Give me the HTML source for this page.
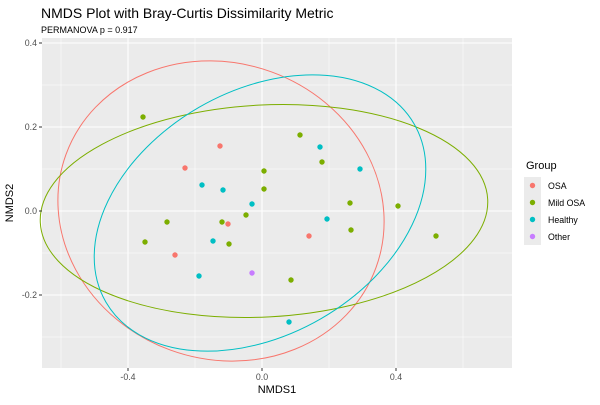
<!DOCTYPE html>
<html><head><style>body{margin:0;background:#fff}</style></head><body>
<svg width="600" height="400" xmlns="http://www.w3.org/2000/svg" font-family="Liberation Sans, DejaVu Sans, sans-serif">
<rect width="600" height="400" fill="#fff"/>
<text x="41" y="18" font-size="14" fill="#000">NMDS Plot with Bray-Curtis Dissimilarity Metric</text>
<text x="41" y="33" font-size="9" fill="#000">PERMANOVA p = 0.917</text>
<rect x="42" y="38" width="470" height="330" fill="#ebebeb"/>
<g stroke="#fff" stroke-width="0.5">
<line x1="61" x2="61" y1="38" y2="368"/><line x1="195" x2="195" y1="38" y2="368"/><line x1="329" x2="329" y1="38" y2="368"/><line x1="463" x2="463" y1="38" y2="368"/>
<line x1="42" x2="512" y1="85" y2="85"/><line x1="42" x2="512" y1="169" y2="169"/><line x1="42" x2="512" y1="253" y2="253"/><line x1="42" x2="512" y1="337" y2="337"/>
</g>
<g stroke="#fff" stroke-width="1.1">
<line x1="128" x2="128" y1="38" y2="368"/><line x1="262" x2="262" y1="38" y2="368"/><line x1="396" x2="396" y1="38" y2="368"/>
<line x1="42" x2="512" y1="43" y2="43"/><line x1="42" x2="512" y1="127" y2="127"/><line x1="42" x2="512" y1="211" y2="211"/><line x1="42" x2="512" y1="295" y2="295"/>
</g>
<g fill="none" stroke-width="1">
<ellipse cx="221" cy="211" rx="165" ry="148" transform="rotate(20 221 211)" stroke="#F8766D"/>
<ellipse cx="264" cy="211" rx="224" ry="106" transform="rotate(-3 264 211)" stroke="#7CAE00"/>
<ellipse cx="260" cy="213" rx="178" ry="122" transform="rotate(-30 260 213)" stroke="#00BFC4"/>
</g>
<g fill="#F8766D"><circle cx="220" cy="146" r="2.7"/><circle cx="185" cy="168" r="2.7"/><circle cx="228" cy="224" r="2.7"/><circle cx="175" cy="255" r="2.7"/><circle cx="309" cy="236" r="2.7"/></g>
<g fill="#7CAE00"><circle cx="143" cy="117" r="2.7"/><circle cx="300" cy="135" r="2.7"/><circle cx="264" cy="171" r="2.7"/><circle cx="322" cy="162" r="2.7"/><circle cx="264" cy="189" r="2.7"/><circle cx="167" cy="222" r="2.7"/><circle cx="246" cy="215" r="2.7"/><circle cx="222" cy="222" r="2.7"/><circle cx="229" cy="244" r="2.7"/><circle cx="145" cy="242" r="2.7"/><circle cx="350" cy="203" r="2.7"/><circle cx="351" cy="230" r="2.7"/><circle cx="398" cy="206" r="2.7"/><circle cx="436" cy="236" r="2.7"/><circle cx="291" cy="280" r="2.7"/></g>
<g fill="#00BFC4"><circle cx="202" cy="185" r="2.7"/><circle cx="223" cy="190" r="2.7"/><circle cx="252" cy="204" r="2.7"/><circle cx="320" cy="147" r="2.7"/><circle cx="360" cy="169" r="2.7"/><circle cx="327" cy="219" r="2.7"/><circle cx="213" cy="241" r="2.7"/><circle cx="199" cy="276" r="2.7"/><circle cx="289" cy="322" r="2.7"/></g>
<circle cx="252" cy="273" r="2.7" fill="#C77CFF"/>
<g stroke="#333" stroke-width="1">
<line x1="128" x2="128" y1="368" y2="371"/><line x1="262" x2="262" y1="368" y2="371"/><line x1="396" x2="396" y1="368" y2="371"/>
<line x1="39" x2="42" y1="43" y2="43"/><line x1="39" x2="42" y1="127" y2="127"/><line x1="39" x2="42" y1="211" y2="211"/><line x1="39" x2="42" y1="295" y2="295"/>
</g>
<g font-size="8.8" fill="#4d4d4d">
<text x="128" y="380" text-anchor="middle">-0.4</text><text x="262" y="380" text-anchor="middle">0.0</text><text x="396" y="380" text-anchor="middle">0.4</text>
<text x="37" y="46" text-anchor="end">0.4</text><text x="37" y="130" text-anchor="end">0.2</text><text x="37" y="214" text-anchor="end">0.0</text><text x="37" y="298" text-anchor="end">-0.2</text>
</g>
<text x="277" y="393" font-size="11" text-anchor="middle">NMDS1</text>
<text x="13" y="203" font-size="11" text-anchor="middle" transform="rotate(-90 13 203)">NMDS2</text>
<text x="526" y="169" font-size="11">Group</text>
<g fill="#ebebeb"><rect x="524" y="177" width="17" height="17"/><rect x="524" y="194" width="17" height="17"/><rect x="524" y="211" width="17" height="17"/><rect x="524" y="228" width="17" height="17"/></g>
<circle cx="532.5" cy="185.5" r="2.7" fill="#F8766D"/><circle cx="532.5" cy="202.5" r="2.7" fill="#7CAE00"/><circle cx="532.5" cy="219.5" r="2.7" fill="#00BFC4"/><circle cx="532.5" cy="236.5" r="2.7" fill="#C77CFF"/>
<g font-size="8.8" fill="#000"><text x="548" y="189">OSA</text><text x="548" y="206">Mild OSA</text><text x="548" y="223">Healthy</text><text x="548" y="240">Other</text></g>
</svg>
</body></html>
